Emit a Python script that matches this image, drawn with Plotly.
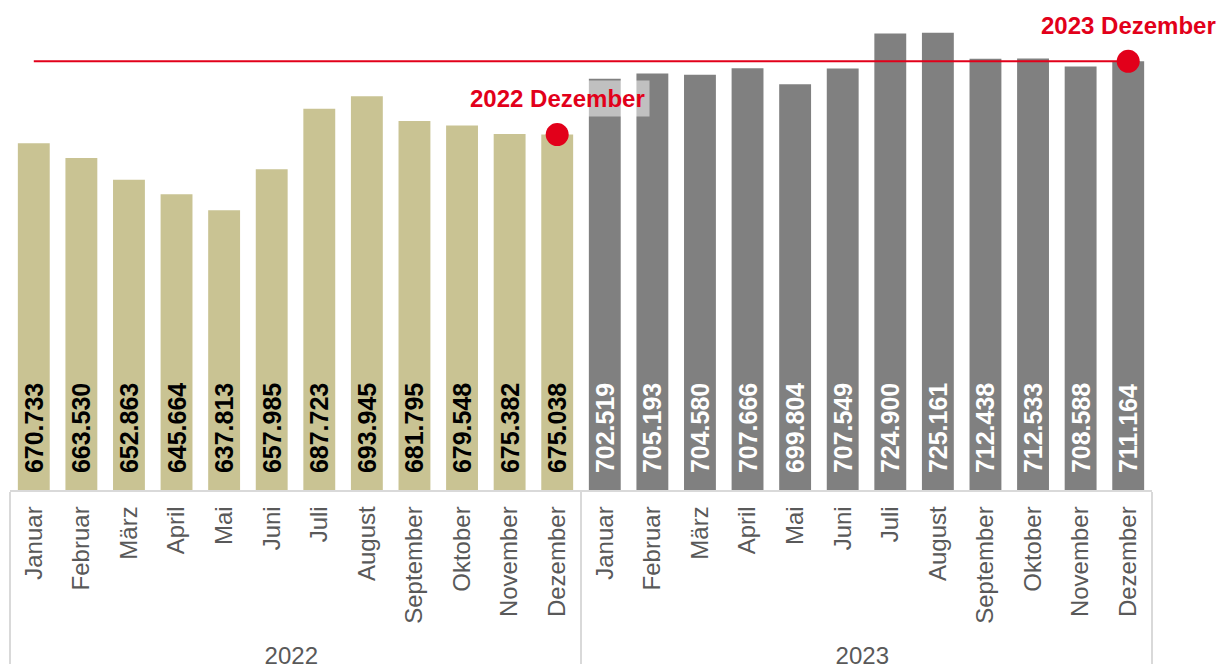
import plotly.graph_objects as go

months = ["Januar", "Februar", "März", "April", "Mai", "Juni", "Juli",
          "August", "September", "Oktober", "November", "Dezember"]
years = ["2022", "2023"]
values_2022 = [670733, 663530, 652863, 645664, 637813, 657985,
               687723, 693945, 681795, 679548, 675382, 675038]
values_2023 = [702519, 705193, 704580, 707666, 699804, 707549,
               724900, 725161, 712438, 712533, 708588, 711164]

y_floor = 500000
y_top = 737400

color_2022 = "#c9c393"
color_2023 = "#808080"
red = "#e2001a"
font = "Liberation Sans, Arial, sans-serif"

x_year = [years[0]] * len(months) + [years[1]] * len(months)
x_month = months + months
values = values_2022 + values_2023
# German thousands separator; leading nbsp keeps the label off the bar bottom
labels = ["\u00a0\u00a0" + f"{v:,}".replace(",", ".") for v in values]

fig = go.Figure()

# Bars start at the visible floor so the labels sit at the bottom of each bar
fig.add_trace(go.Bar(
    x=[x_year, x_month],
    y=[v - y_floor for v in values],
    base=y_floor,
    text=labels,
    textposition="inside",
    insidetextanchor="start",
    textangle=-90,
    textfont=dict(
        family=font, size=25, weight="bold",
        color=["#000000"] * len(values_2022) + ["#ffffff"] * len(values_2023),
    ),
    marker_color=[color_2022] * len(values_2022) + [color_2023] * len(values_2023),
    marker_line_width=0,
    hoverinfo="skip",
))

# Reference line at the last value
fig.add_trace(go.Scatter(
    x=[[years[0], years[1]], [months[0], months[-1]]],
    y=[values_2023[-1], values_2023[-1]],
    mode="lines",
    line=dict(color=red, width=2.2),
    hoverinfo="skip",
))

# Markers on both December bars
fig.add_trace(go.Scatter(
    x=[[years[0], years[1]], [months[-1], months[-1]]],
    y=[values_2022[-1], values_2023[-1]],
    mode="markers",
    marker=dict(color=red, size=23),
    hoverinfo="skip",
))

dez_idx = [len(months) - 1, 2 * len(months) - 1]
for idx, yr, val in zip(dez_idx, years, [values_2022[-1], values_2023[-1]]):
    fig.add_annotation(
        x=idx, y=val, xref="x", yref="y",
        text=f"<b>{yr} Dezember</b>",
        showarrow=False, yshift=36,
        font=dict(family=font, size=24, color=red),
        bgcolor="rgba(255,255,255,0.5)",
        borderpad=4,
    )

fig.update_xaxes(
    type="multicategory",
    range=[-0.5, len(values) - 0.5],
    tickangle=-90,
    tickfont=dict(family=font, size=24, color="#595959"),
    ticklabelstandoff=5,
    showline=True,
    linecolor="#d9d9d9",
    linewidth=1.5,
    showdividers=True,
    dividercolor="#d9d9d9",
    dividerwidth=1.5,
    ticks="",
    showgrid=False,
    automargin=False,
)
fig.update_yaxes(
    range=[y_floor, y_top],
    visible=False,
    showgrid=False,
    zeroline=False,
)
# margins compensate the 8px page offset of the html body
fig.update_layout(
    width=1225,
    height=664,
    bargap=0.33,
    showlegend=False,
    plot_bgcolor="white",
    paper_bgcolor="white",
    margin=dict(l=2, r=81, t=0, b=182),
    font=dict(family=font),
    uniformtext=dict(minsize=25, mode="show"),
)

fig.write_html("out.html")
